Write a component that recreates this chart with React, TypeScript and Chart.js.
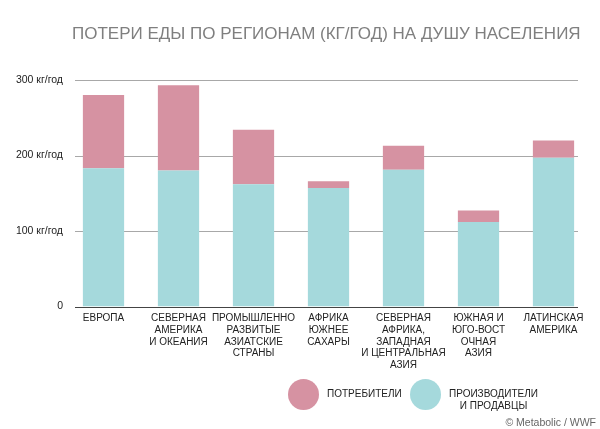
import React, { useEffect, useRef } from "react";
import { Chart, registerables } from "chart.js";

Chart.register(...registerables);

const categories: string[][] = [
  ["ЕВРОПА"],
  ["СЕВЕРНАЯ", "АМЕРИКА", "И ОКЕАНИЯ"],
  ["ПРОМЫШЛЕННО", "РАЗВИТЫЕ", "АЗИАТСКИЕ", "СТРАНЫ"],
  ["АФРИКА", "ЮЖНЕЕ", "САХАРЫ"],
  ["СЕВЕРНАЯ", "АФРИКА,", "ЗАПАДНАЯ", "И ЦЕНТРАЛЬНАЯ", "АЗИЯ"],
  ["ЮЖНАЯ И", "ЮГО-ВОСТ", "ОЧНАЯ", "АЗИЯ"],
  ["ЛАТИНСКАЯ", "АМЕРИКА"],
];
const producers: number[] = [183, 180, 162, 157, 181, 112, 197];
const consumers: number[] = [97, 113, 72, 9, 32, 15, 23];
const yTicks: number[] = [0, 100, 200, 300];
const yTickLabels: string[] = ["0", "100 кг/год", "200 кг/год", "300 кг/год"];
const seriesNames: string[] = ["ПОТРЕБИТЕЛИ", "ПРОИЗВОДИТЕЛИ\nИ ПРОДАВЦЫ"];
const title = "ПОТЕРИ ЕДЫ ПО РЕГИОНАМ (КГ/ГОД) НА ДУШУ НАСЕЛЕНИЯ";
const credit = "© Metabolic / WWF";

const PINK = "#d692a2";
const TEAL = "#a5d9dc";
const FONT = "'Liberation Sans', Arial, sans-serif";

const gridPlugin = {
  id: "customGrid",
  beforeDatasetsDraw(chart: any) {
    const { ctx } = chart;
    const y = chart.scales.y;
    ctx.save();
    ctx.strokeStyle = "#a8a8a8";
    ctx.lineWidth = 1;
    yTicks.forEach((v) => {
      if (v === 0) return;
      const py = Math.round(y.getPixelForValue(v)) + 0.5;
      ctx.beginPath();
      ctx.moveTo(75, py);
      ctx.lineTo(578, py);
      ctx.stroke();
    });
    ctx.restore();
  },
  afterDatasetsDraw(chart: any) {
    const { ctx } = chart;
    const y = chart.scales.y;
    ctx.save();
    ctx.strokeStyle = "#444";
    ctx.lineWidth = 1.2;
    const py = Math.round(y.getPixelForValue(0)) + 0.5;
    ctx.beginPath();
    ctx.moveTo(75, py);
    ctx.lineTo(578, py);
    ctx.stroke();
    ctx.restore();
  },
};

export default function App() {
  const ref = useRef<HTMLCanvasElement>(null);
  useEffect(() => {
    if (!ref.current) return;
    const chart = new Chart(ref.current, {
      type: "bar",
      data: {
        labels: categories,
        datasets: [
          { label: seriesNames[1], data: producers, backgroundColor: TEAL, stack: "s" },
          { label: seriesNames[0], data: consumers, backgroundColor: PINK, stack: "s" },
        ],
      },
      plugins: [gridPlugin],
      options: {
        animation: false,
        responsive: false,
        maintainAspectRatio: false,
        layout: { padding: { top: 80, right: 9, left: 0, bottom: 0 } },
        plugins: { legend: { display: false }, title: { display: false }, tooltip: { enabled: false } },
        datasets: { bar: { categoryPercentage: 1, barPercentage: 0.55 } },
        scales: {
          x: {
            stacked: true,
            grid: { display: false, drawTicks: false },
            border: { display: false },
            afterFit: (s: any) => { s.height = 122.5; },
            ticks: {
              autoSkip: false,
              maxRotation: 0,
              minRotation: 0,
              padding: 6,
              color: "#222",
              font: { family: FONT, size: 10, lineHeight: 1.17 },
            },
          },
          y: {
            stacked: true,
            min: 0,
            max: 300,
            grid: { display: false, drawTicks: false },
            border: { display: false },
            afterFit: (s: any) => { s.width = 66; },
            afterBuildTicks: (s: any) => { s.ticks = yTicks.map((v) => ({ value: v })); },
            ticks: {
              padding: 3,
              color: "#222",
              font: { family: FONT, size: 10.5 },
              callback: (v: any) => yTickLabels[yTicks.indexOf(Number(v))],
            },
          },
        },
      },
    });
    return () => chart.destroy();
  }, []);

  const txt: React.CSSProperties = { position: "absolute", fontFamily: FONT, whiteSpace: "nowrap" };
  return (
    <div style={{ position: "absolute", left: 0, top: 0, width: 600, height: 429, background: "#fff", overflow: "hidden" }}>
      <canvas ref={ref} width={600} height={429} style={{ position: "absolute", left: 0, top: 0, width: 600, height: 429 }} />
      <div style={{ ...txt, left: 72, top: 25, fontSize: 17, lineHeight: "17px", color: "#7f7f7f" }}>{title}</div>
      <div style={{ position: "absolute", left: 288, top: 379, width: 31, height: 31, borderRadius: "50%", background: PINK }} />
      <div style={{ ...txt, left: 327, top: 388, fontSize: 10, lineHeight: "12px", color: "#222" }}>{seriesNames[0]}</div>
      <div style={{ position: "absolute", left: 410, top: 379, width: 31, height: 31, borderRadius: "50%", background: TEAL }} />
      <div style={{ ...txt, left: 449, top: 388, fontSize: 10, lineHeight: "12px", color: "#222", textAlign: "center" }}>
        {seriesNames[1].split("\n").map((l, i) => <div key={i}>{l}</div>)}
      </div>
      <div style={{ ...txt, right: 4, top: 416, fontSize: 10.5, lineHeight: "12px", color: "#666" }}>{credit}</div>
    </div>
  );
}
